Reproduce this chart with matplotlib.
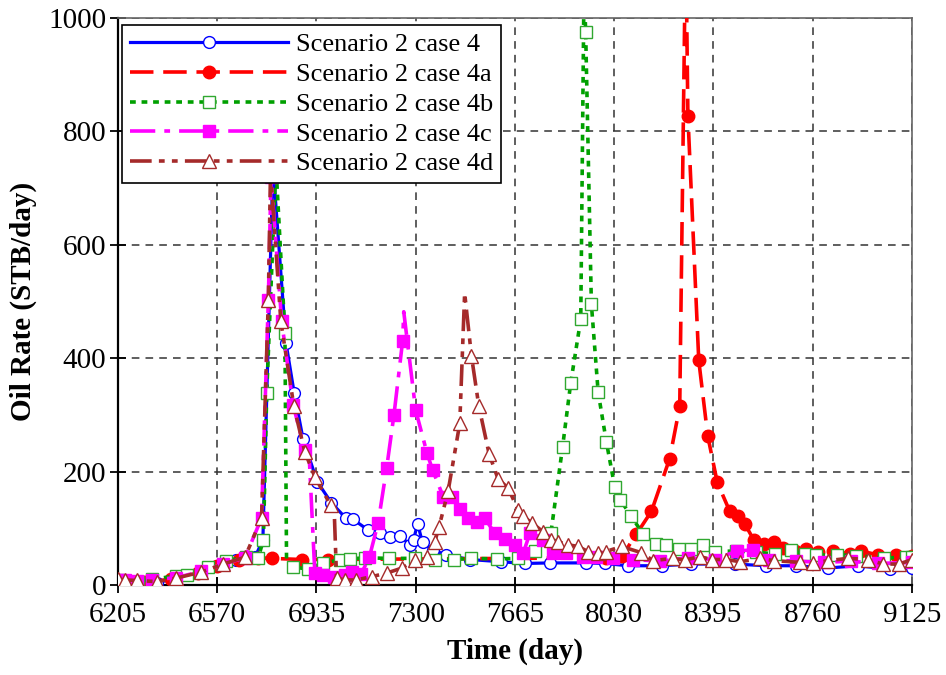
import matplotlib
matplotlib.use("Agg")
import matplotlib.pyplot as plt
import numpy as np

plt.rcParams['font.family'] = ['Liberation Serif', 'DejaVu Serif']
plt.rcParams['mathtext.fontset'] = 'stix'

# oil rate vs time for the five runs (day, STB/day)
t_4 = [6205, 6274, 6350, 6418, 6500, 6570, 6640, 6710, 6738, 6775, 6823, 6853,
       6886, 6938, 6990, 7043, 7069, 7125, 7168, 7205, 7242, 7278, 7292, 7307,
       7325, 7363, 7413, 7499, 7615, 7701, 7793, 7928, 7995, 8081, 8204, 8314,
       8473, 8589, 8700, 8816, 8926, 9043, 9125]
q_4 = [8, 6, 4, 12, 22, 34, 45, 50, 80, 740, 427, 339,
       257, 182, 145, 118, 116, 97, 92, 85, 87, 71, 80, 108,
       75, 62, 53, 45, 41, 38, 39, 39, 38, 34, 34, 37,
       37, 34, 34, 30, 34, 28, 30]

t_4a = [6205, 6300, 6400, 6500, 6570, 6650, 6720, 6770, 6880, 6976, 8000, 8060,
        8112, 8167, 8234, 8271, 8293, 8301, 8341, 8374, 8409, 8455, 8485, 8511,
        8543, 8581, 8617, 8651, 8694, 8737, 8779, 8834, 8896, 8939, 9000, 9065,
        9125]
q_4a = [8, 5, 10, 22, 34, 45, 48, 47, 45, 45, 48, 52,
        90, 130, 223, 315, 1150, 828, 396, 263, 181, 130, 121, 107,
        80, 73, 75, 65, 60, 63, 59, 60, 55, 60, 53, 53,
        52]

t_4b = [6205, 6280, 6329, 6418, 6460, 6537, 6602, 6676, 6721, 6740, 6752, 6786,
        6819, 6825, 6847, 6905, 6960, 7021, 7058, 7113, 7200, 7297, 7370, 7440,
        7505, 7600, 7677, 7740, 7797, 7840, 7870, 7907, 7919, 7925, 7946, 7971,
        8001, 8032, 8053, 8093, 8136, 8183, 8219, 8268, 8314, 8357, 8400, 8479,
        8550, 8620, 8681, 8730, 8773, 8850, 8920, 9024, 9104, 9125]
q_4b = [8, 6, 10, 16, 18, 31, 43, 49, 48, 80, 338, 740,
        445, 40, 32, 28, 38, 45, 46, 48, 47, 47, 45, 45,
        47, 46, 47, 60, 91, 243, 356, 469, 1060, 976, 496, 340,
        253, 173, 150, 121, 90, 73, 70, 63, 63, 70, 59, 60,
        58, 55, 61, 55, 53, 53, 52, 47, 50, 50]

t_4c = [6205, 6231, 6274, 6329, 6418, 6512, 6592, 6672, 6733, 6758, 6768, 6807,
        6849, 6892, 6908, 6929, 6960, 7000, 7040, 7064, 7100, 7130, 7162, 7193,
        7220, 7252, 7256, 7300, 7342, 7362, 7401, 7432, 7462, 7493, 7524, 7554,
        7591, 7628, 7664, 7695, 7720, 7768, 7805, 7854, 7915, 7964, 8026, 8100,
        8200, 8300, 8400, 8480, 8540, 8600, 8700, 8800, 8900, 9000, 9125]
q_4c = [8, 8, 7, 9, 13, 24, 37, 48, 118, 503, 720, 465,
        318, 238, 230, 21, 18, 15, 17, 23, 20, 50, 110, 206,
        300, 431, 482, 308, 232, 203, 156, 156, 134, 118, 112, 118,
        91, 82, 71, 56, 91, 79, 56, 56, 50, 50, 47, 45,
        42, 48, 45, 60, 62, 45, 42, 40, 42, 38, 40]

t_4d = [6205, 6231, 6274, 6350, 6418, 6512, 6592, 6672, 6733, 6758, 6766, 6804,
        6852, 6892, 6929, 6987, 7000, 7009, 7039, 7082, 7140, 7193, 7250, 7297,
        7340, 7370, 7386, 7419, 7462, 7480, 7505, 7532, 7570, 7603, 7640, 7677,
        7695, 7729, 7768, 7799, 7824, 7860, 7897, 7934, 7971, 7999, 8057, 8130,
        8173, 8245, 8289, 8344, 8391, 8442, 8494, 8565, 8617, 8712, 8761, 8816,
        8890, 8963, 9018, 9079, 9125]
q_4d = [10, 9, 8, 6, 12, 23, 37, 49, 118, 503, 730, 465,
        315, 235, 191, 141, 135, 12, 9, 9, 15, 21, 30, 44,
        50, 76, 103, 165, 285, 515, 404, 316, 231, 187, 171, 132,
        121, 109, 94, 79, 76, 71, 68, 59, 56, 59, 68, 57,
        43, 47, 44, 50, 45, 45, 41, 47, 43, 40, 39, 43,
        47, 45, 37, 37, 45]

x_ticks = [6205, 6570, 6935, 7300, 7665, 8030, 8395, 8760, 9125]
y_ticks = [0, 200, 400, 600, 800, 1000]


def marks(t, skip):
    # marker on every sample except the given line-only vertices
    return [i for i in range(len(t)) if t[i] not in skip]


fig = plt.figure(figsize=(9.46, 6.75), dpi=100)
ax = fig.add_axes([0.1247, 0.1333, 0.8393, 0.8400])

ax.plot(t_4, q_4, color='#0000ff', lw=2.3, marker='o', ms=8.5,
        mfc='white', mec='#0000ff', mew=1.0,
        label='Scenario 2 case 4', zorder=3)
ax.plot(t_4a, q_4a, color='#ff0000', lw=2.6, ls=(0, (6.5, 2.7)),
        marker='o', ms=9, mfc='#ff0000', mec='#ff0000',
        markevery=marks(t_4a, [8293]),
        label='Scenario 2 case 4a', zorder=3)
ax.plot(t_4b, q_4b, color='#00a000', lw=2.6, ls=(0, (1.6, 1.6)),
        marker='s', ms=8.5, mfc='white', mec='#30a830', mew=1.0,
        markevery=marks(t_4b, [6825, 7919]),
        label='Scenario 2 case 4b', zorder=3)
ax.plot(t_4c, q_4c, color='#ff00ff', lw=2.6, ls=(0, (7, 2.5, 1.6, 2.5)),
        marker='s', ms=9, mfc='#ff00ff', mec='#ff00ff',
        markevery=marks(t_4c, [6908, 7256]),
        label='Scenario 2 case 4c', zorder=3)
ax.plot(t_4d, q_4d, color='#a52a2a', lw=2.6,
        ls=(0, (6, 2, 1.6, 2, 1.6, 2)),
        marker='^', ms=10, mfc='white', mec='#a52a2a', mew=1.0,
        markevery=marks(t_4d, [7000, 7480]),
        label='Scenario 2 case 4d', zorder=3)

ax.set_xlim(6205, 9125)
ax.set_ylim(0, 1000)
ax.set_xticks(x_ticks)
ax.set_yticks(y_ticks)
ax.tick_params(direction='inout', length=11, width=1.3, labelsize=21,
               colors='black')
ax.tick_params(axis='x', pad=7)
ax.tick_params(axis='y', pad=3)
ax.grid(True, color='#333333', lw=1.1, ls=(0, (5, 4)), zorder=1)

for side in ['left', 'bottom']:
    ax.spines[side].set_linewidth(1.6)
    ax.spines[side].set_color('black')
for side in ['top', 'right']:
    ax.spines[side].set_linewidth(1.2)
    ax.spines[side].set_color('#666666')

ax.set_xlabel('Time (day)', fontsize=21, fontweight='bold', labelpad=7)
ax.set_ylabel('Oil Rate (STB/day)', fontsize=21, fontweight='bold',
              labelpad=8)

leg = ax.legend(loc='upper left', bbox_to_anchor=(0.005, 0.988),
                borderaxespad=0, fontsize=19, handlelength=6.0,
                handletextpad=0.3, labelspacing=0.24, borderpad=0.3,
                fancybox=False, framealpha=1, edgecolor='black',
                numpoints=1)
leg.get_frame().set_linewidth(1.2)
leg.set_zorder(10)

fig.savefig('out.png', dpi=100)
